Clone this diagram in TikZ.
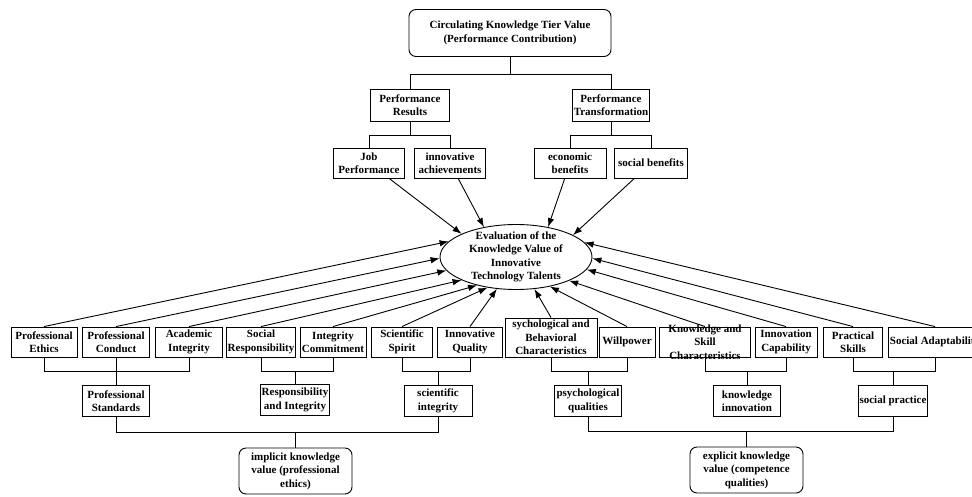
\documentclass[tikz,border=0pt]{standalone}
\usepackage{fontspec}
\setmainfont{Liberation Serif}
\usetikzlibrary{arrows.meta,shapes.geometric}
\tikzset{
  box/.style={draw, line width=0.9pt, align=center, inner sep=1pt, minimum height=30pt},
  tierbox/.style={box, rounded corners=7pt},
  valueell/.style={draw, line width=0.9pt, ellipse, inner sep=0pt, minimum width=152pt, minimum height=65pt},
  link/.style={line width=0.9pt},
  arr/.style={line width=0.9pt, -{Latex[length=9pt,width=6.5pt]}},
}
\begin{document}
\begin{tikzpicture}[x=1pt,y=-1pt,font=\bfseries\fontsize{11}{13.5}\selectfont]
      \useasboundingbox (0,0) rectangle (972,496);
      % top tier
      \node[tierbox, minimum width=202pt, minimum height=47pt] (top) at (510,33)
        {Circulating Knowledge Tier Value\\(Performance Contribution)};
      \node[box, minimum width=79pt, minimum height=32pt] (pr) at (410,105) {Performance\\Results};
      \node[box, minimum width=77pt, minimum height=32pt] (pt) at (611,105) {Performance\\Transformation};
      \node[box, minimum width=71pt] (jp) at (369,163) {Job\\Performance};
      \node[box, minimum width=71pt] (ia) at (450,163) {innovative\\achievements};
      \node[box, minimum width=72pt] (eb) at (570,163) {economic\\benefits};
      \node[box, minimum width=73pt] (sb) at (651,163) {social benefits};
      % centre
      \node[valueell, label={[align=center, inner sep=0pt]center:Evaluation of the\\Knowledge Value of\\Innovative\\Technology Talents}] (eval) at (516,257) {};
      % bottom row
      \node[box, minimum width=66pt] (pe) at (44,342) {Professional\\Ethics};
      \node[box, minimum width=67pt] (pc) at (116,342) {Professional\\Conduct};
      \node[box, minimum width=67pt] (ai) at (189,342) {Academic\\Integrity};
      \node[box, minimum width=68pt] (sr) at (261,342) {Social\\Responsibility};
      \node[box, minimum width=66pt] (icm) at (333,342) {Integrity\\Commitment};
      \node[box, minimum width=61pt] (ss) at (402,342) {Scientific\\Spirit};
      \node[box, minimum width=65pt] (iq) at (470,342) {Innovative\\Quality};
      \node[box, minimum width=92pt, minimum height=39pt, label={[align=center, inner sep=0pt]center:sychological and\\Behavioral\\Characteristics}] (pbc) at (551,337.5) {};
      \node[box, minimum width=56pt] (wp) at (627,342) {Willpower};
      \node[box, minimum width=91pt, label={[align=center, inner sep=0pt]center:Knowledge and\\Skill\\Characteristics}] (ks) at (705,342) {};
      \node[box, minimum width=62pt] (icap) at (786,342) {Innovation\\Capability};
      \node[box, minimum width=59pt] (psk) at (853,342) {Practical\\Skills};
      \node[box, minimum width=92pt] (sa) at (935,342) {Social Adaptability};
      % second row
      \node[box, minimum width=67pt, minimum height=31pt] (ps) at (116,401) {Professional\\Standards};
      \node[box, minimum width=66pt, minimum height=31pt] (ri) at (295,400) {Responsibility\\and Integrity};
      \node[box, minimum width=68pt, minimum height=31pt] (si) at (438,401) {scientific\\integrity};
      \node[box, minimum width=67pt, minimum height=31pt] (pq) at (588,401) {psychological\\qualities};
      \node[box, minimum width=67pt, minimum height=31pt] (ki) at (747,401) {knowledge\\innovation};
      \node[box, minimum width=68pt, minimum height=31pt] (spr) at (893,401) {social practice};
      % value tiers
      \node[tierbox, minimum width=113pt, minimum height=46pt] (imp) at (295.5,471)
        {implicit knowledge\\value (professional\\ethics)};
      \node[tierbox, minimum width=113pt, minimum height=46pt] (exp) at (746.5,470)
        {explicit knowledge\\value (competence\\qualities)};
      % tree links
      \begin{scope}[link]
        \draw (top.south) -- ++(0,17) coordinate (t1);
        \draw (pr.north) |- (t1) -| (pt.north);
        \draw (pr.south) -- ++(0,14) coordinate (t2);
        \draw (jp.north) |- (t2) -| (ia.north);
        \draw (pt.south) -- ++(0,14) coordinate (t3);
        \draw (eb.north) |- (t3) -| (sb.north);
        \draw (pe.south) -- ++(0,14) coordinate (b1) -| (ai.south);
        \draw (pc.south) -- (ps.north);
        \draw (sr.south) -- ++(0,14) coordinate (b2) -| (icm.south);
        \draw (ri.north) -- (ri.north |- b2);
        \draw (ss.south) -- ++(0,14) coordinate (b3) -| (iq.south);
        \draw (si.north) -- (si.north |- b3);
        \draw (pbc.south) -- ++(0,14) coordinate (b4) -| (wp.south);
        \draw (pq.north) -- (pq.north |- b4);
        \draw (ks.south) -- ++(0,14) coordinate (b5) -| (icap.south);
        \draw (ki.north) -- (ki.north |- b5);
        \draw (psk.south) -- ++(0,14) coordinate (b6) -| (sa.south);
        \draw (spr.north) -- (spr.north |- b6);
        \draw (ps.south) -- ++(0,15) coordinate (c1) -| (si.south);
        \draw (imp.north) -- (imp.north |- c1);
        \draw (pq.south) -- ++(0,14) coordinate (c2) -| (spr.south);
        \draw (exp.north) -- (exp.north |- c2);
      \end{scope}
      % arrows into the evaluation
      \foreach \n/\a in {jp/157, ia/137, eb/43, sb/21.5}
        \draw[arr] (\n) -- (eval.\a);
      \foreach \n/\a in {pe/167, pc/181, ai/191, sr/203, icm/216, ss/227, iq/239,
                         pbc/300, wp/319, ks/336, icap/350, psk/359, sa/12}
        \draw[arr] (\n.north) -- (eval.\a);
    \end{tikzpicture}
\end{document}
